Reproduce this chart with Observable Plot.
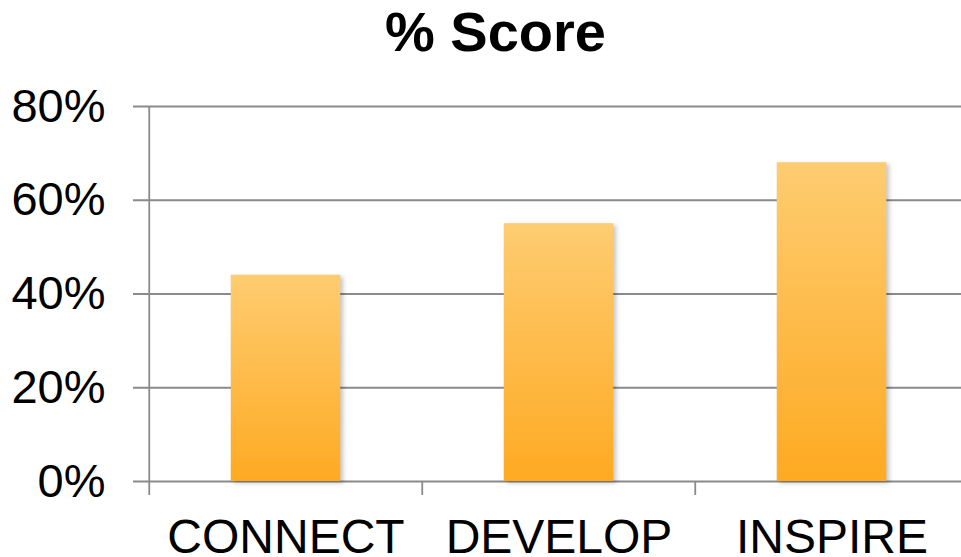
<!DOCTYPE html>
<html>
<head>
<meta charset="utf-8">
<script src="https://cdn.jsdelivr.net/npm/d3@7"></script>
<script src="https://cdn.jsdelivr.net/npm/@observablehq/plot@0.6"></script>
<style>
  html, body { margin: 0; padding: 0; background: #fff; }
  #title {
    width: 961px; box-sizing: border-box; padding-left: 30px;
    text-align: center; font-family: "Liberation Sans", Arial, sans-serif;
    font-weight: bold; font-size: 56px; line-height: 64px; height: 64px; color: #000;
  }
</style>
</head>
<body>
<div id="title">% Score</div>
<div id="chart"></div>
<script>
const categories = ["CONNECT", "DEVELOP", "INSPIRE"];
const scores = [44, 55, 68];
const yTicks = [0, 20, 40, 60, 80];

const data = categories.map((c, i) => ({category: c, score: scores[i]}));

const xRange = [148, 968.5];
const bandwidth = (xRange[1] - xRange[0]) / categories.length;
const barWidth = 110;
const inset = (bandwidth - barWidth) / 2;
const gridColor = "#8a8a8a";

const chart = Plot.plot({
  width: 961,
  height: 493,
  marginLeft: 133,
  marginRight: 0,
  marginTop: 42,
  marginBottom: 76,
  style: {fontFamily: "'Liberation Sans', Arial, sans-serif", color: "#000", background: "#fff"},
  x: {domain: categories, range: xRange, padding: 0, label: null},
  y: {domain: [0, 80], label: null},
  marks: [
    Plot.ruleY(yTicks, {stroke: gridColor, strokeWidth: 1.8}),
    Plot.ruleX([categories[0]], {x: d => d, dx: -bandwidth / 2, y1: 0, y2: 80, stroke: gridColor, strokeWidth: 1.8}),
    Plot.ruleX(categories, {x: d => d, dx: -bandwidth / 2, y1: 0, y2: 0, insetBottom: -14, stroke: gridColor, strokeWidth: 1.8}),
    Plot.barY(data, {x: "category", y: "score", fill: "url(#barGrad)", insetLeft: inset, insetRight: inset}),
    Plot.axisY(yTicks, {tickSize: 0, tickPadding: 28, fontSize: 47, label: null, tickFormat: d => d + "%"}),
    Plot.axisX({tickSize: 0, tickPadding: 37, fontSize: 48, label: null})
  ]
});

const ns = "http://www.w3.org/2000/svg";
const defs = document.createElementNS(ns, "defs");
const grad = document.createElementNS(ns, "linearGradient");
grad.setAttribute("id", "barGrad");
grad.setAttribute("x1", "0"); grad.setAttribute("y1", "0");
grad.setAttribute("x2", "0"); grad.setAttribute("y2", "1");
[["0", "#FECC71"], ["1", "#FEAA22"]].forEach(([o, c]) => {
  const s = document.createElementNS(ns, "stop");
  s.setAttribute("offset", o);
  s.setAttribute("stop-color", c);
  grad.appendChild(s);
});
defs.appendChild(grad);
chart.insertBefore(defs, chart.firstChild);
chart.querySelectorAll('g[aria-label="bar"]').forEach(g => {
  g.style.filter = "drop-shadow(3px 2px 2px rgba(0,0,0,0.22))";
});
document.getElementById("chart").appendChild(chart);
</script>
</body>
</html>
